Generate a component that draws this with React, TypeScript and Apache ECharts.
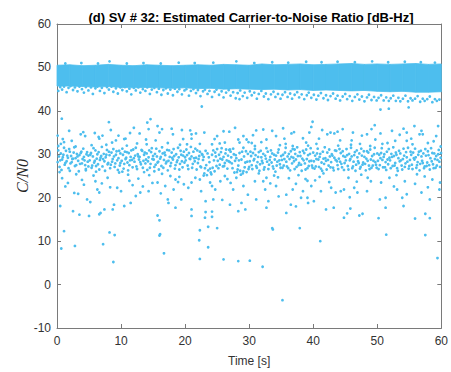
import React, { useEffect, useRef } from "react";
import * as echarts from "echarts";

const TITLE = "(d) SV # 32: Estimated Carrier-to-Noise Ratio [dB-Hz]";
const X_NAME = "Time [s]";
const Y_NAME = "C/N0";
const BLUE = "#4DBEEE";

// Dense band (read as upper/lower envelope every 2 s)
const bandX = [0, 2, 4, 6, 8, 10, 12, 14, 16, 18, 20, 22, 24, 26, 28, 30, 32, 34, 36, 38, 40, 42, 44, 46, 48, 50, 52, 54, 56, 58, 60];
const bandTop = [50.5, 50.6, 50.4, 50.5, 50.7, 50.5, 50.4, 50.6, 50.5, 50.4, 50.5, 50.6, 50.5, 50.7, 50.6, 50.5, 50.8, 50.6, 50.7, 50.8, 50.6, 50.7, 50.8, 50.9, 50.7, 50.8, 50.7, 50.8, 50.9, 50.7, 50.8];
const bandBottom = [45.7, 45.7, 45.6, 45.5, 45.6, 45.4, 45.3, 45.4, 45.3, 45.2, 45.3, 45.1, 45.2, 45.0, 45.1, 45.0, 44.9, 45.0, 44.8, 44.9, 44.7, 44.8, 44.7, 44.6, 44.7, 44.5, 44.4, 44.5, 44.3, 44.3, 44.4];

// Points sticking out of the band
const bandTopEdge = [[1.3,50.9],[3.8,51.0],[6.4,50.9],[8.2,51.4],[10.9,50.9],[13.5,51.0],[16.2,50.9],[19.0,51.1],[21.5,51.0],[24.4,51.1],[28.0,51.4],[30.8,51.0],[33.6,51.2],[36.1,51.1],[38.9,51.3],[41.3,51.2],[43.8,51.3],[46.5,51.2],[49.2,51.4],[51.7,51.2],[54.3,51.3],[56.8,51.2],[59.0,51.1]];
const bandBottomEdge = [
[0.2,44.6],[0.5,45.5],[0.8,44.9],[1.1,45.6],[1.5,44.3],[1.8,45.3],[2.1,45.7],[2.5,44.8],[2.8,45.4],[3.2,44.5],[3.5,45.6],[3.9,45.0],[4.2,44.2],[4.5,45.5],[4.9,44.7],[5.3,45.4],[5.6,43.9],[6.0,45.2],[6.3,45.6],[6.7,44.6],[7.0,45.3],[7.4,44.1],[7.8,45.5],[8.1,44.9],[8.5,45.6],[8.8,44.4],[9.2,45.2],[9.5,44.0],[9.9,45.4],[10.2,44.8],[10.6,45.5],[10.9,44.5],[11.3,45.1],[11.6,43.8],[12.0,45.3],[12.3,44.7],[12.7,45.4],[13.0,44.2],[13.4,45.0],[13.8,44.6],[14.1,45.4],[14.5,43.9],[14.8,44.9],[15.2,45.3],[15.6,44.3],[15.9,45.1],[16.3,43.7],[16.6,44.8],[17.0,45.2],[17.3,44.0],[17.7,44.9],[18.1,43.6],[18.4,45.1],[18.8,44.4],[19.1,45.0],[19.5,43.8],[19.9,44.7],
[20.2,45.0],[20.6,43.5],[20.9,44.6],[21.3,45.0],[21.7,44.1],[22.0,44.8],[22.4,43.4],[22.8,44.5],[23.1,44.9],[23.5,43.9],[23.8,44.6],[24.2,43.2],[24.6,44.4],[24.9,44.9],[25.3,43.7],[25.7,44.5],[26.0,43.1],[26.4,44.2],[26.8,44.8],[27.1,43.5],[27.5,44.3],[27.9,42.9],[28.2,44.1],[28.6,44.7],[29.0,43.4],[29.3,44.2],[29.7,43.0],[30.1,44.5],[30.4,43.6],[30.8,44.2],[31.2,42.8],[31.5,43.9],[31.9,44.6],[32.3,43.3],[32.6,44.0],[33.0,42.7],[33.4,43.8],[33.8,44.4],[34.1,43.2],[34.5,43.9],[34.9,42.8],[35.2,43.7],[35.6,44.3],
[36.0,43.2],[36.4,44.0],[36.7,42.8],[37.1,43.7],[37.5,44.3],[37.8,43.1],[38.2,43.8],[38.6,42.7],[39.0,43.6],[39.3,44.2],[39.7,43.0],[40.1,43.7],[40.5,42.6],[40.8,43.5],[41.2,44.1],[41.6,42.9],[42.0,43.6],[42.3,42.5],[42.7,43.4],[43.1,44.0],[43.5,42.8],[43.8,43.5],[44.2,42.4],[44.6,43.3],[45.0,43.9],[45.3,42.7],[45.7,43.4],[46.1,42.3],[46.5,43.2],[46.9,43.8],[47.2,42.6],[47.6,43.3],[48.0,42.2],[48.4,43.1],[48.7,43.7],[49.1,42.5],[49.5,43.2],[49.9,42.4],[50.2,43.0],[50.6,43.6],[51.0,42.4],[51.4,43.1],[51.8,42.3],[52.1,42.9],[52.5,43.5],[52.9,42.3],[53.3,43.0],[53.6,42.2],[54.0,42.8],[54.4,43.5],[54.8,42.2],[55.2,42.9],[55.5,42.4],[55.9,42.8],[56.3,43.4],[56.7,42.1],[57.1,42.8],[57.4,42.3],[57.8,42.7],[58.2,43.3],[58.6,42.0],[59.0,42.7],[59.3,42.3],[59.7,42.6],
[22.6,41.0],[54.9,40.8],[50.5,40.3],[51.8,40.5],[28.5,42.7]
];

// Lower cluster, core around 29 dB-Hz
const clusterDense = [
[0.1,28.2],[0.3,29.5],[0.4,27.1],[0.6,30.2],[0.8,28.8],[1.0,29.9],[1.2,27.6],[1.4,30.8],[1.5,28.4],[1.7,29.2],[1.9,31.2],[2.1,27.9],[2.2,29.6],[2.4,28.9],[2.6,30.4],[2.8,27.3],[2.9,29.1],[3.1,30.1],[3.3,28.5],[3.5,29.8],[3.6,27.8],[3.8,30.6],[4.0,28.9],[4.2,29.4],[4.4,27.5],[4.6,30.0],[4.8,28.3],[4.9,29.7],
[5.1,28.6],[5.3,30.3],[5.5,27.4],[5.6,29.5],[5.8,28.1],[6.0,30.9],[6.2,29.0],[6.4,27.7],[6.5,30.5],[6.7,28.7],[6.9,29.6],[7.1,27.2],[7.3,30.1],[7.4,28.4],[7.6,29.3],[7.8,31.0],[8.0,28.0],[8.2,29.8],[8.4,27.6],[8.5,30.4],[8.7,28.9],[8.9,29.5],[9.1,27.9],[9.3,30.7],[9.4,28.6],[9.6,29.1],[9.8,27.4],[9.9,30.2],
[10.1,28.5],[10.3,29.9],[10.5,27.8],[10.6,30.6],[10.8,29.2],[11.0,28.1],[11.2,30.3],[11.3,27.5],[11.5,29.4],[11.7,28.7],[11.9,31.1],[12.1,28.3],[12.2,29.7],[12.4,27.2],[12.6,30.0],[12.8,28.8],[12.9,29.4],[13.1,27.7],[13.3,30.8],[13.5,28.5],[13.6,29.9],[13.8,27.9],[14.0,30.2],[14.2,28.4],[14.3,29.3],[14.5,26.9],[14.7,30.5],[14.9,28.9],
[15.1,28.8],[15.3,30.1],[15.4,27.6],[15.6,29.5],[15.8,28.3],[16.0,30.7],[16.1,29.0],[16.3,27.3],[16.5,30.2],[16.7,28.7],[16.9,29.8],[17.0,27.9],[17.2,31.0],[17.4,28.5],[17.6,29.4],[17.8,28.0],[17.9,30.4],[18.1,28.8],[18.3,29.6],[18.5,27.5],[18.6,30.0],[18.8,28.6],[19.0,29.3],[19.2,27.8],[19.3,30.8],[19.5,28.4],[19.7,29.7],[19.9,28.1],
[20.1,28.6],[20.3,29.8],[20.4,27.4],[20.6,30.3],[20.8,28.9],[21.0,29.5],[21.2,27.8],[21.3,30.6],[21.5,28.4],[21.7,29.2],[21.9,30.9],[22.0,28.0],[22.2,29.6],[22.4,27.2],[22.6,30.1],[22.8,28.7],[22.9,29.4],[23.1,26.8],[23.3,27.5],[23.5,30.2],[23.6,26.3],[23.8,28.2],[24.0,25.8],[24.2,29.9],[24.3,26.9],[24.5,28.6],[24.7,30.4],[24.9,27.3],
[25.1,28.5],[25.3,29.9],[25.4,27.6],[25.6,30.5],[25.8,28.8],[26.0,29.4],[26.1,27.3],[26.3,30.2],[26.5,28.6],[26.7,29.7],[26.9,31.0],[27.0,28.2],[27.2,29.3],[27.4,26.8],[27.6,30.0],[27.8,28.5],[27.9,29.8],[28.1,25.9],[28.3,27.4],[28.5,30.3],[28.6,26.2],[28.8,28.8],[29.0,25.6],[29.2,29.5],[29.3,27.0],[29.5,30.7],[29.7,28.3],[29.9,26.6],
[30.1,28.4],[30.3,29.6],[30.4,27.5],[30.6,30.3],[30.8,28.9],[31.0,29.8],[31.2,26.9],[31.3,28.2],[31.5,30.5],[31.7,27.7],[31.9,29.3],[32.0,28.5],[32.2,30.1],[32.4,27.0],[32.6,29.0],[32.8,28.3],[32.9,30.6],[33.1,27.6],[33.3,29.4],[33.5,28.1],[33.6,30.2],[33.8,26.7],[34.0,28.8],[34.2,29.7],[34.3,27.4],[34.5,30.4],[34.7,28.6],[34.9,26.9],
[35.1,28.7],[35.3,29.9],[35.4,27.4],[35.6,30.4],[35.8,28.3],[36.0,29.5],[36.1,26.8],[36.3,28.9],[36.5,30.7],[36.7,27.9],[36.9,29.2],[37.0,28.4],[37.2,30.1],[37.4,27.1],[37.6,29.6],[37.8,28.0],[37.9,30.5],[38.1,27.6],[38.3,29.0],[38.5,28.6],[38.6,30.3],[38.8,26.5],[39.0,28.9],[39.2,29.8],[39.3,27.3],[39.5,30.1],[39.7,28.5],[39.9,26.9],
[40.1,28.4],[40.3,29.7],[40.4,27.2],[40.6,30.2],[40.8,28.8],[41.0,29.4],[41.2,26.7],[41.3,28.1],[41.5,30.6],[41.7,27.8],[41.9,29.1],[42.0,28.5],[42.2,30.4],[42.4,27.4],[42.6,29.5],[42.8,28.2],[42.9,30.0],[43.1,26.9],[43.3,29.2],[43.5,28.7],[43.6,30.8],[43.8,27.5],[44.0,29.0],[44.2,28.3],[44.3,30.3],[44.5,27.0],[44.7,29.6],[44.9,28.0],
[45.1,28.6],[45.3,29.8],[45.4,27.3],[45.6,30.1],[45.8,28.9],[46.0,29.5],[46.1,26.8],[46.3,28.3],[46.5,30.5],[46.7,27.6],[46.9,29.3],[47.0,28.4],[47.2,30.2],[47.4,27.1],[47.6,29.7],[47.8,28.1],[47.9,30.7],[48.1,27.8],[48.3,29.0],[48.5,28.5],[48.6,30.4],[48.8,26.6],[49.0,28.8],[49.2,29.6],[49.3,27.4],[49.5,30.0],[49.7,28.2],[49.9,26.9],
[50.1,28.5],[50.3,29.9],[50.4,27.5],[50.6,30.3],[50.8,28.7],[51.0,29.4],[51.2,27.0],[51.3,28.2],[51.5,30.6],[51.7,27.7],[51.9,29.2],[52.0,28.6],[52.2,30.1],[52.4,27.3],[52.6,29.6],[52.8,28.0],[52.9,30.4],[53.1,26.8],[53.3,29.1],[53.5,28.4],[53.6,30.2],[53.8,27.4],[54.0,28.9],[54.2,29.7],[54.3,27.1],[54.5,30.5],[54.7,28.3],[54.9,26.7],
[55.1,28.7],[55.3,29.9],[55.4,27.6],[55.6,30.4],[55.8,28.8],[56.0,29.3],[56.1,26.9],[56.3,28.2],[56.5,30.6],[56.7,27.8],[56.9,29.5],[57.0,28.5],[57.2,30.2],[57.4,27.2],[57.6,29.7],[57.8,28.1],[57.9,30.7],[58.1,27.5],[58.3,29.1],[58.5,28.4],[58.6,30.3],[58.8,26.8],[59.0,28.9],[59.2,29.6],[59.3,27.4],[59.5,30.0],[59.7,28.3],[59.9,29.2]
];

const clusterDense2 = [
[0.2,30.9],[0.5,28.6],[0.7,26.4],[0.9,29.3],[1.1,31.5],[1.3,28.0],[1.6,29.7],[1.8,26.8],[2.0,30.6],[2.3,28.2],[2.5,29.0],[2.7,31.6],[3.0,27.5],[3.2,29.5],[3.4,26.1],[3.7,30.3],[3.9,27.9],[4.1,31.3],[4.3,28.6],[4.5,26.6],[4.7,30.5],[4.9,27.2],
[5.2,29.9],[5.4,26.9],[5.7,31.4],[5.9,28.5],[6.1,27.3],[6.3,30.0],[6.6,26.5],[6.8,29.2],[7.0,31.7],[7.2,28.9],[7.5,26.2],[7.7,29.9],[7.9,27.7],[8.1,30.6],[8.3,26.8],[8.6,28.3],[8.8,31.2],[9.0,27.1],[9.2,29.9],[9.5,26.4],[9.7,30.8],[9.9,28.0],
[10.2,31.3],[10.4,26.7],[10.7,28.9],[10.9,30.5],[11.1,26.3],[11.4,28.6],[11.6,30.9],[11.8,27.0],[12.0,29.1],[12.3,31.5],[12.5,26.6],[12.7,29.5],[13.0,28.2],[13.2,31.0],[13.4,26.9],[13.7,30.4],[13.9,28.8],[14.1,26.4],[14.4,30.9],[14.6,27.8],[14.8,31.4],[15.0,29.6],
[15.2,27.1],[15.5,31.3],[15.7,28.1],[15.9,26.5],[16.2,29.4],[16.4,31.6],[16.6,26.9],[16.8,30.4],[17.1,28.3],[17.3,26.3],[17.5,30.9],[17.7,27.3],[18.0,29.2],[18.2,31.2],[18.4,26.7],[18.7,28.2],[18.9,31.5],[19.1,26.5],[19.4,29.9],[19.6,27.0],[19.8,30.6],[20.0,29.3],
[20.2,31.1],[20.5,26.6],[20.7,29.0],[20.9,31.7],[21.1,26.9],[21.4,29.1],[21.6,31.3],[21.8,26.5],[22.1,28.9],[22.3,30.6],[22.5,27.0],[22.7,29.9],[23.0,25.6],[23.2,30.8],[23.4,25.2],[23.7,29.3],[23.9,26.7],[24.1,25.4],[24.4,30.9],[24.6,26.1],[24.8,29.5],[25.0,31.2],
[25.2,26.8],[25.5,29.0],[25.7,31.4],[25.9,27.2],[26.2,28.0],[26.4,31.1],[26.6,26.7],[26.8,28.4],[27.1,30.6],[27.3,27.9],[27.5,31.3],[27.7,25.8],[28.0,29.1],[28.2,26.5],[28.4,28.6],[28.7,25.3],[28.9,30.6],[29.1,26.1],[29.4,28.1],[29.6,25.9],[29.8,30.1],[30.0,27.1],
[30.2,30.6],[30.5,26.6],[30.7,28.6],[30.9,31.2],[31.1,27.3],[31.4,29.4],[31.6,26.2],[31.8,30.8],[32.1,28.0],[32.3,26.5],[32.5,29.7],[32.7,31.4],[33.0,26.6],[33.2,28.7],[33.4,30.9],[33.7,27.2],[33.9,29.9],[34.1,26.0],[34.4,28.3],[34.6,31.1],[34.8,27.7],[35.0,29.6],
[35.2,26.9],[35.5,28.9],[35.7,31.5],[35.9,27.2],[36.2,30.1],[36.4,26.3],[36.6,29.4],[36.8,31.2],[37.1,26.6],[37.3,28.8],[37.5,31.6],[37.7,27.5],[38.0,29.6],[38.2,26.2],[38.4,30.8],[38.7,27.9],[38.9,31.1],[39.1,26.8],[39.4,28.4],[39.6,31.4],[39.8,27.4],[40.0,30.4],
[40.2,26.7],[40.5,28.9],[40.7,31.3],[40.9,27.1],[41.1,30.1],[41.4,26.2],[41.6,29.0],[41.8,31.6],[42.1,26.5],[42.3,28.7],[42.5,31.1],[42.7,27.0],[43.0,29.7],[43.2,26.3],[43.4,30.9],[43.7,28.4],[43.9,26.6],[44.1,31.2],[44.4,27.8],[44.6,30.7],[44.8,26.4],[45.0,29.4],
[45.2,31.2],[45.5,26.5],[45.7,28.6],[45.9,31.5],[46.2,27.2],[46.4,29.8],[46.6,26.2],[46.8,30.9],[47.1,28.0],[47.3,26.7],[47.5,31.3],[47.7,27.6],[48.0,29.4],[48.2,26.3],[48.4,30.7],[48.7,27.4],[48.9,31.1],[49.1,26.9],[49.4,28.5],[49.6,31.5],[49.8,27.6],[50.0,30.2],
[50.2,26.6],[50.5,29.1],[50.7,31.4],[50.9,27.0],[51.1,30.0],[51.4,26.4],[51.6,28.8],[51.8,31.2],[52.1,26.8],[52.3,29.4],[52.5,31.6],[52.7,27.4],[53.0,29.9],[53.2,26.2],[53.4,30.8],[53.7,28.6],[53.9,26.5],[54.1,31.3],[54.4,27.9],[54.6,29.3],[54.8,31.5],[55.0,27.3],
[55.2,30.6],[55.5,26.6],[55.7,29.1],[55.9,31.3],[56.2,27.5],[56.4,29.9],[56.6,26.3],[56.8,30.8],[57.1,28.0],[57.3,26.8],[57.5,31.2],[57.7,27.3],[58.0,29.8],[58.2,26.5],[58.4,31.4],[58.7,27.7],[58.9,30.2],[59.1,26.9],[59.4,28.7],[59.6,31.0],[59.8,27.1],[59.95,30.3]
];

const clusterSparse = [
[0.1,34.3],[0.2,31.9],[0.6,32.4],[0.75,38.2],[0.4,25.9],[0.8,24.5],[1.7,23.4],[0.5,18.1],[2.3,33.1],[3.7,34.6],[4.1,35.1],[4.4,34.2],[3.0,25.4],[1.3,22.6],[2.5,16.9],[3.5,16.1],[2.0,26.2],[3.9,24.1],[4.7,19.6],[4.5,26.3],[1.1,32.8],[2.7,21.1],
[5.2,19.0],[6.3,21.9],[6.6,21.2],[6.8,16.5],[7.4,17.3],[6.6,33.6],[7.1,34.3],[6.5,34.0],[8.1,37.4],[8.4,35.6],[8.9,18.4],[8.7,17.3],[9.4,22.3],[10.0,21.5],[5.7,25.1],[7.9,24.6],[8.6,32.7],[9.2,33.2],[5.4,32.1],[7.0,23.3],[9.7,25.8],[6.1,26.0],[5.0,15.8],[6.6,16.2],
[10.5,33.5],[10.7,33.6],[12.0,36.1],[14.6,38.1],[14.1,37.3],[14.3,35.8],[10.5,18.1],[11.5,18.8],[12.3,20.4],[13.0,21.2],[14.3,21.5],[14.9,23.4],[11.1,25.3],[12.7,24.4],[13.6,25.9],[11.8,22.9],[12.5,32.5],[13.9,33.4],[10.2,26.0],[14.4,25.2],[11.4,34.9],
[15.7,36.5],[16.0,35.0],[16.4,35.8],[18.1,34.6],[19.5,35.6],[19.7,33.5],[17.3,32.6],[15.7,23.5],[16.9,22.7],[18.2,21.9],[18.5,24.2],[17.3,19.6],[17.4,18.8],[19.4,19.6],[18.5,17.7],[15.7,15.9],[16.0,14.8],[16.0,11.3],[16.4,25.5],[17.7,25.0],[19.1,24.8],[15.2,26.1],[19.8,23.1],
[21.0,34.6],[21.0,33.6],[21.7,34.8],[23.0,35.0],[20.3,32.3],[24.2,32.3],[25.0,34.2],[21.0,23.5],[20.5,22.3],[22.3,24.2],[22.5,21.5],[24.2,22.7],[24.7,21.9],[23.2,19.2],[24.4,19.6],[21.0,17.3],[21.0,15.8],[23.2,16.7],[24.2,16.8],[23.1,15.4],[24.2,15.6],[23.6,13.3],[22.9,25.1],
[27.8,36.1],[28.3,33.4],[28.5,32.7],[29.1,34.2],[29.6,33.4],[29.1,31.5],[26.2,32.7],[27.0,31.1],[26.2,25.0],[27.5,21.9],[29.1,22.7],[28.8,18.8],[28.3,16.9],[27.0,18.4],[29.8,20.7],[25.5,23.8],[26.6,24.3],[29.4,17.3],[25.8,19.5],[26.9,35.2],
[31.1,35.5],[32.2,35.7],[30.9,31.9],[32.7,33.4],[34.2,34.2],[35.3,36.0],[32.2,23.8],[32.7,24.6],[32.5,21.9],[33.0,19.2],[32.7,17.7],[31.1,19.6],[34.2,22.7],[30.9,23.8],[33.7,12.7],[31.5,25.6],[33.9,25.1],[34.6,20.3],[30.4,32.6],[34.8,32.1],
[39.9,37.5],[38.4,33.7],[38.9,32.7],[36.8,31.9],[37.1,31.1],[39.4,35.0],[35.8,20.7],[36.8,21.9],[38.4,21.5],[39.2,18.8],[36.5,18.4],[37.3,18.0],[35.8,16.5],[36.2,24.5],[37.7,25.2],[39.1,23.9],[35.5,33.6],[37.0,35.1],[38.1,20.0],
[39.7,36.3],[40.1,19.2],[39.1,20.0],[39.7,22.7],[41.2,21.5],[42.2,34.6],[42.7,35.0],[43.3,34.8],[43.8,35.2],[44.6,35.8],[43.5,21.2],[44.3,21.5],[44.8,21.9],[44.8,15.4],[43.2,17.7],[42.0,17.3],[41.0,24.8],[42.5,23.6],[40.5,32.4],[43.9,32.0],[41.6,25.6],
[45.3,16.4],[45.8,17.5],[47.2,15.9],[47.7,16.3],[46.4,22.3],[46.9,21.2],[48.4,21.5],[49.6,36.7],[49.1,35.8],[48.4,34.6],[46.0,33.2],[47.3,32.4],[45.5,24.6],[47.5,25.3],[49.0,23.8],[46.2,35.0],[48.9,31.9],[45.7,20.1],
[50.2,15.3],[50.4,19.6],[51.3,20.0],[51.3,17.7],[53.1,21.9],[53.9,20.0],[54.1,18.1],[54.6,20.8],[54.1,35.9],[54.6,35.0],[52.8,33.1],[54.6,33.1],[50.8,32.4],[51.9,24.6],[53.0,25.2],[50.6,23.5],[52.3,35.4],
[55.9,15.2],[57.5,16.3],[58.2,15.3],[56.9,21.2],[58.2,19.6],[59.7,21.9],[59.8,23.5],[55.8,36.5],[56.6,34.6],[56.9,35.4],[59.5,36.5],[58.8,33.0],[55.5,32.3],[57.4,24.9],[56.2,25.4],[58.6,24.2],[59.9,31.8],[57.9,32.6],
[0.9,33.5],[2.9,31.8],[4.2,23.0],[3.3,20.9],[1.9,35.4],[5.9,34.9],[7.7,32.2],[6.0,23.8],[8.3,22.4],[9.6,34.3],
[10.9,32.0],[12.9,34.8],[11.3,23.9],[13.4,22.6],[14.0,32.3],[15.4,33.2],[17.9,35.9],[16.2,21.0],[18.9,23.6],[19.2,32.2],
[20.8,35.5],[22.3,32.4],[21.6,24.6],[23.9,23.5],[24.6,33.5],[25.4,32.5],[26.0,35.3],[27.1,23.4],[28.0,24.6],[29.9,32.8],
[30.6,34.4],[31.9,32.8],[33.3,23.3],[34.5,24.7],[33.6,35.4],[35.7,32.4],[36.6,34.8],[37.3,23.2],[38.8,24.3],[39.2,32.0],
[40.9,33.6],[41.4,35.6],[42.8,22.3],[40.3,24.0],[44.2,33.2],[45.9,32.2],[47.6,34.3],[46.8,23.7],[48.5,24.6],[49.7,33.4],
[50.5,34.8],[51.6,32.6],[52.6,22.6],[54.3,23.8],[53.5,34.5],[55.3,33.6],[57.1,34.6],[55.9,23.2],[57.9,22.4],[59.2,34.2]
];

const outliers = [[0.67,8.3],[1.1,12.3],[2.8,8.9],[7.2,9.3],[8.2,12.0],[9.0,11.4],[8.8,5.2],[16.1,11.6],[16.7,7.2],[22.2,10.2],[22.3,12.5],[22.3,5.9],[23.6,8.6],[25.0,13.0],[26.0,5.8],[28.3,5.4],[30.1,5.5],[32.1,4.1],[33.6,13.0],[35.2,-3.6],[37.9,13.0],[41.1,10.0],[51.4,11.5],[57.5,11.4],[59.4,6.1]];

const X_MIN = 0, X_MAX = 60, X_STEP = 10;
const Y_MIN = -10, Y_MAX = 60, Y_STEP = 10;

export default function App() {
  const ref = useRef<HTMLDivElement>(null);
  useEffect(() => {
    document.body.style.margin = "0";
    const chart = echarts.init(ref.current!, null, { renderer: "svg" });
    const axisLineColor = "#7a7a7a";
    const labelColor = "#333333";
    const font = "Liberation Sans";
    const baseX = {
      type: "value" as const,
      min: X_MIN, max: X_MAX, interval: X_STEP,
      splitLine: { show: false },
      axisLine: { show: true, onZero: false, lineStyle: { color: axisLineColor, width: 1 } },
      axisTick: { show: true, inside: true, length: 4, lineStyle: { color: axisLineColor } },
    };
    const baseY = {
      type: "value" as const,
      min: Y_MIN, max: Y_MAX, interval: Y_STEP,
      splitLine: { show: false },
      axisLine: { show: true, onZero: false, lineStyle: { color: axisLineColor, width: 1 } },
      axisTick: { show: true, inside: true, length: 4, lineStyle: { color: axisLineColor } },
    };
    const scatterData = [...bandTopEdge, ...bandBottomEdge, ...clusterDense, ...clusterDense2, ...clusterSparse, ...outliers];
    const bandData = bandX.map((x, i) => [x, bandTop[i], bandBottom[i]]);
    chart.setOption({
      animation: false,
      backgroundColor: "#ffffff",
      grid: { left: 57, right: 7, top: 24, bottom: 42, containLabel: false },
      graphic: [
        {
          type: "text",
          x: 251,
          y: 11,
          style: {
            text: TITLE,
            fill: "#000000",
            font: `bold 13px "${font}"`,
            align: "center",
            textAlign: "center",
            verticalAlign: "top",
            textVerticalAlign: "top",
          },
        },
      ],
      xAxis: [
        {
          ...baseX,
          position: "bottom",
          name: X_NAME,
          nameLocation: "middle",
          nameGap: 27,
          nameMoveOverlap: false,
          nameTextStyle: { color: labelColor, fontSize: 12, fontFamily: font },
          axisLabel: { color: labelColor, fontSize: 12, fontFamily: font, margin: 7 },
        },
        { ...baseX, position: "top", axisLabel: { show: false } },
      ],
      yAxis: [
        {
          ...baseY,
          position: "left",
          name: Y_NAME,
          nameLocation: "middle",
          nameGap: 27,
          nameMoveOverlap: false,
          nameTextStyle: { color: "#262626", fontSize: 16, fontFamily: "Liberation Serif", fontStyle: "italic" },
          axisLabel: { color: labelColor, fontSize: 12, fontFamily: font, margin: 6 },
        },
        { ...baseY, position: "right", axisLabel: { show: false } },
      ],
      series: [
        {
          type: "custom",
          data: bandData,
          encode: { x: 0, y: [1, 2] },
          silent: true,
          renderItem: (params: any, api: any) => {
            const i = params.dataIndex;
            if (i >= bandX.length - 1) return null;
            const p1 = api.coord([bandX[i], bandTop[i]]);
            const p2 = api.coord([bandX[i + 1], bandTop[i + 1]]);
            const p3 = api.coord([bandX[i + 1], bandBottom[i + 1]]);
            const p4 = api.coord([bandX[i], bandBottom[i]]);
            return {
              type: "polygon",
              shape: { points: [p1, p2, p3, p4] },
              style: { fill: BLUE, stroke: BLUE, lineWidth: 0.8 },
            };
          },
        },
        {
          type: "scatter",
          data: scatterData,
          symbol: "circle",
          symbolSize: 2.8,
          itemStyle: { color: BLUE, opacity: 1 },
          silent: true,
        },
      ],
    });
    return () => chart.dispose();
  }, []);
  return (
    <div
      ref={ref}
      style={{ position: "absolute", left: 0, top: 0, width: 451, height: 372, background: "#fff" }}
    />
  );
}
